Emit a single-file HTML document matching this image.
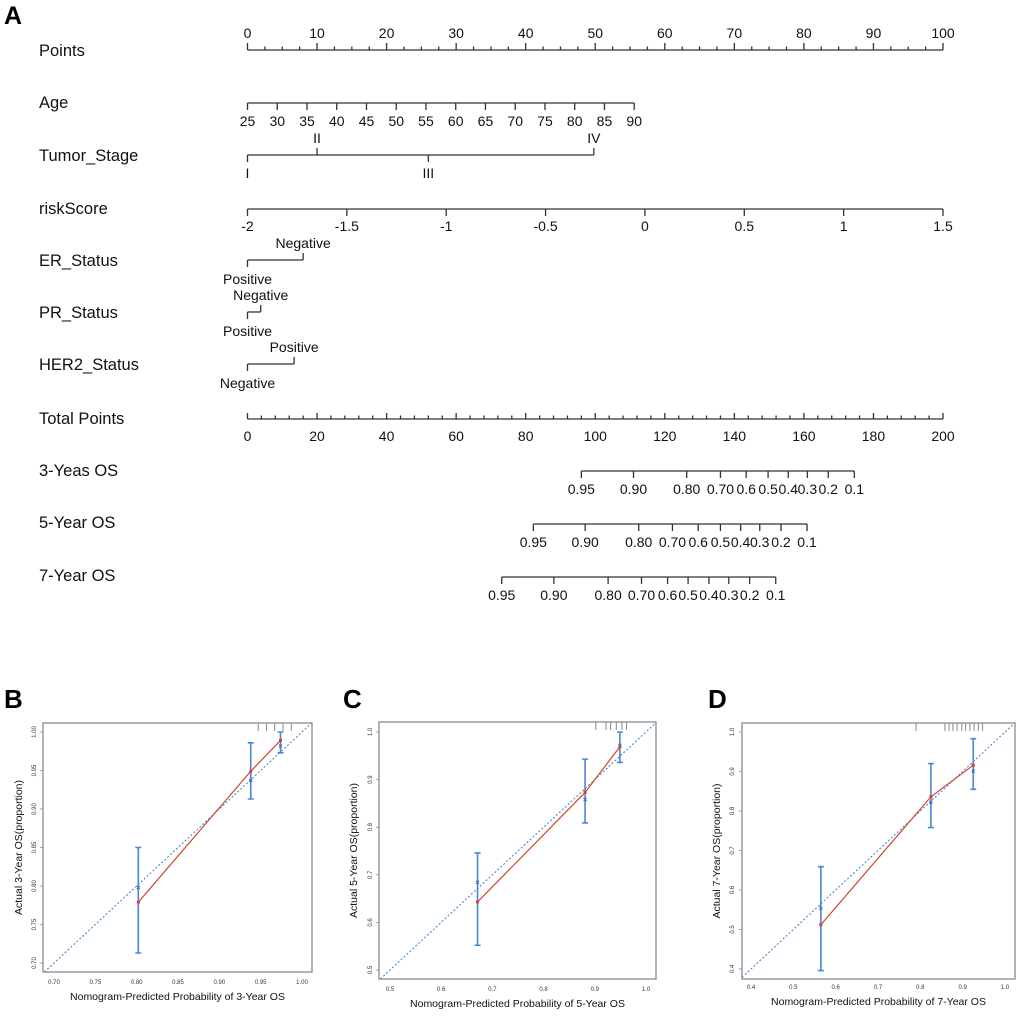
<!DOCTYPE html>
<html><head><meta charset="utf-8"><style>
html,body{margin:0;padding:0;background:#fff;width:1020px;height:1016px;overflow:hidden;}
svg{display:block;font-family:"Liberation Sans",Arial,sans-serif;}
</style></head><body>
<svg id="fig" width="1020" height="1016" viewBox="0 0 1020 1016" xmlns="http://www.w3.org/2000/svg">
<text x="4" y="24" font-size="25" font-weight="bold">A</text>
<g id="nomo"></g>
<text x="4" y="708" font-size="26" font-weight="bold">B</text>
<text x="343" y="708" font-size="26" font-weight="bold">C</text>
<text x="708" y="708" font-size="26" font-weight="bold">D</text>
<g id="cal"></g>
</svg>
<script>
// ---- Nomogram data ----
const rowLabels = ["Points","Age","Tumor_Stage","riskScore","ER_Status","PR_Status","HER2_Status","Total Points","3-Yeas OS","5-Year OS","7-Year OS"];
const rowLabelY = [56,108,161,214,266,318,370,424,476,528,581];
const pointTicks = [0,10,20,30,40,50,60,70,80,90,100];
const ageTicks = [25,30,35,40,45,50,55,60,65,70,75,80,85,90];
const stageLabels = ["I","II","III","IV"];
const stagePoints = [0,10,26,49.8];
const riskTicks = [-2,-1.5,-1,-0.5,0,0.5,1,1.5];
const erLabels = ["Positive","Negative"];
const erPoints = [0,8];
const prLabels = ["Positive","Negative"];
const prPoints = [0,1.9];
const her2Labels = ["Negative","Positive"];
const her2Points = [0,6.7];
const totalTicks = [0,20,40,60,80,100,120,140,160,180,200];
const survLabels = ["0.95","0.90","0.80","0.70","0.6","0.5","0.4","0.3","0.2","0.1"];
const surv3Total = [96,111,126.3,136,143.4,149.7,155.5,161,167,174.5];
const surv5Total = [82.2,97.1,112.5,122.2,129.6,136,141.8,147.3,153.4,160.9];
const surv7Total = [73.1,88.1,103.7,113.3,120.8,126.7,132.7,138.4,144.4,151.9];

// ---- Calibration data ----
const calB_pred = [0.802,0.938,0.974];
const calB_obs = [0.798,0.937,0.982];
const calB_fit = [0.779,0.949,0.989];
const calB_lo = [0.713,0.913,0.973];
const calB_hi = [0.850,0.986,1.000];
const calB_rug = [0.947,0.957,0.967,0.977,0.987];
const calB_ticks = [0.70,0.75,0.80,0.85,0.90,0.95,1.00];
const calC_pred = [0.671,0.881,0.949];
const calC_obs = [0.684,0.858,0.972];
const calC_fit = [0.643,0.873,0.969];
const calC_lo = [0.552,0.809,0.936];
const calC_hi = [0.746,0.943,1.000];
const calC_rug = [0.902,0.922,0.931,0.942,0.953,0.962];
const calC_ticks = [0.5,0.6,0.7,0.8,0.9,1.0];
const calD_pred = [0.565,0.825,0.925];
const calD_obs = [0.554,0.822,0.901];
const calD_fit = [0.512,0.836,0.916];
const calD_lo = [0.396,0.758,0.855];
const calD_hi = [0.659,0.920,0.983];
const calD_rug = [0.790,0.858,0.868,0.877,0.887,0.898,0.907,0.917,0.927,0.937,0.947];
const calD_ticks = [0.4,0.5,0.6,0.7,0.8,0.9,1.0];

const NS="http://www.w3.org/2000/svg";
function mk(parent,tag,attrs,txt){const e=document.createElementNS(NS,tag);for(const k in attrs)e.setAttribute(k,attrs[k]);if(txt!==undefined)e.textContent=txt;parent.appendChild(e);return e;}
const nomo=document.getElementById('nomo');
const P=v=>247.5+v*6.955;
const TP=v=>247.5+v*3.4775;
const AGE=v=>P((v-25)*55.6/65);
const RISK=v=>P((v+2)*100/3.5);
const ink="#333";
function line(x1,y1,x2,y2,name){const l=mk(nomo,'line',{x1,y1,x2,y2,stroke:ink,'stroke-width':1.3});

return l;}
function txt(x,y,s,size,anchor,name){const t=mk(nomo,'text',{x,y,'font-size':size,'text-anchor':anchor,fill:'#111'},s);

return t;}

rowLabels.forEach((s,i)=>{txt(39,rowLabelY[i],s,16.5,'start','row-label');});

let y=50;
line(P(0),y,P(100),y,'points-axis');
for(let v=0;v<=100;v+=2.5){const maj=v%10===0;line(P(v),y,P(v),y-(maj?7:3.5),'points-tick');}
pointTicks.forEach(v=>txt(P(v),38,String(v),14,'middle','points-tick-label'));

y=103;
line(AGE(25),y,AGE(90),y,'age-axis');
ageTicks.forEach(v=>{line(AGE(v),y,AGE(v),y+7,'age-tick');txt(AGE(v),126,String(v),14,'middle','age-tick-label');});

y=155;
line(P(0),y,P(Math.max(...stagePoints)),y,'tumor-stage-axis');
stagePoints.forEach((v,i)=>{const up=(i%2===1);line(P(v),y,P(v),up?y-7:y+7,'tumor-stage-tick');
txt(P(v),up?y-12:y+23,stageLabels[i],14,'middle','tumor-stage-label');});

y=209;
line(RISK(-2),y,RISK(1.5),y,'riskscore-axis');
riskTicks.forEach(v=>{line(RISK(v),y,RISK(v),y+7,'riskscore-tick');txt(RISK(v),231,String(v),14,'middle','riskscore-tick-label');});

function binary(yy,labels,pts,name){
  line(P(pts[0]),yy,P(pts[1]),yy,name+'-axis');
  line(P(pts[0]),yy,P(pts[0]),yy+7,name+'-tick');
  line(P(pts[1]),yy,P(pts[1]),yy-7,name+'-tick');
  txt(P(pts[0]),yy+24,labels[0],14,'middle',name+'-label');
  txt(P(pts[1]),yy-12,labels[1],14,'middle',name+'-label');
}
binary(260,erLabels,erPoints,'er-status');
binary(312,prLabels,prPoints,'pr-status');
binary(364,her2Labels,her2Points,'her2-status');

y=419;
line(TP(0),y,TP(200),y,'total-points-axis');
for(let v=0;v<=200;v+=4){const maj=v%20===0;line(TP(v),y,TP(v),y-(maj?6:3.5),'total-points-tick');}
totalTicks.forEach(v=>txt(TP(v),441,String(v),14,'middle','total-points-tick-label'));

function surv(yy,tot,name){
  line(TP(tot[0]),yy,TP(tot[tot.length-1]),yy,name+'-axis');
  tot.forEach((v,i)=>{line(TP(v),yy,TP(v),yy+7,name+'-tick');txt(TP(v),yy+23,survLabels[i],14,'middle',name+'-tick-label');});
}
surv(471,surv3Total,'os-3-year');
surv(524,surv5Total,'os-5-year');
surv(577,surv7Total,'os-7-year');

const cal=document.getElementById('cal');
function calPlot(cfg){
  const g=mk(cal,'g',{});
  
  
  const X=v=>cfg.x0+(v-cfg.vx0)*(cfg.x1-cfg.x0)/(cfg.vx1-cfg.vx0);
  const Y=v=>cfg.y0+(v-cfg.vy0)*(cfg.y1-cfg.y0)/(cfg.vy1-cfg.vy0);
  const Xi=px=>cfg.vx0+(px-cfg.x0)*(cfg.vx1-cfg.vx0)/(cfg.x1-cfg.x0);
  const Yi=py=>cfg.vy0+(py-cfg.y0)*(cfg.vy1-cfg.vy0)/(cfg.y1-cfg.y0);
  // diagonal clipped to the frame analytically
  const lo=Math.max(Xi(cfg.bx0),Yi(cfg.by1));
  const hi=Math.min(Xi(cfg.bx1),Yi(cfg.by0));
  const d=mk(g,'line',{x1:X(lo),y1:Y(lo),x2:X(hi),y2:Y(hi),stroke:'#4a86d8','stroke-width':1.1,'stroke-dasharray':'2,2'});
  
  
  cfg.rug.forEach(v=>{const r=mk(g,'line',{x1:X(v),y1:cfg.by0,x2:X(v),y2:cfg.by0+8,stroke:'#888','stroke-width':1});
    
    });
  cfg.pred.forEach((p,i)=>{
    const xx=X(p);
    const e=mk(g,'path',{d:`M${xx},${Y(cfg.lo[i])}V${Y(cfg.hi[i])}M${xx-3},${Y(cfg.lo[i])}h6M${xx-3},${Y(cfg.hi[i])}h6`,stroke:'#4a86d8','stroke-width':1.6,fill:'none'});
    
    
    const m=mk(g,'path',{d:`M${xx-1.5},${Y(cfg.obs[i])-1.5}l3,3M${xx+1.5},${Y(cfg.obs[i])-1.5}l-3,3`,stroke:'#3a6fc0','stroke-width':1});
    
    
  });
  const pl=mk(g,'polyline',{points:cfg.pred.map((p,i)=>X(p)+','+Y(cfg.fit[i])).join(' '),stroke:'#d0452c','stroke-width':1.2,fill:'none'});
  
  
  cfg.pred.forEach((p,i)=>{const c=mk(g,'rect',{x:X(p)-1.5,y:Y(cfg.fit[i])-1.5,width:3,height:3,fill:'#d0452c'});
    
    });
  const b=mk(g,'rect',{x:cfg.bx0,y:cfg.by0,width:cfg.bx1-cfg.bx0,height:cfg.by1-cfg.by0,fill:'none',stroke:'#8a8a8a','stroke-width':1.3});
  
  
  cfg.ticks.forEach(v=>{
    if(v>=cfg.vx0-1e-9){const t=mk(g,'text',{x:X(v),y:cfg.xly,'font-size':6,'text-anchor':'middle',fill:'#333'},cfg.fmt(v));
      
      }
    if(v>=cfg.vy0-1e-9){const yy=Y(v);const t=mk(g,'text',{x:cfg.ylx,y:yy,'font-size':6,'text-anchor':'middle',fill:'#333',transform:`rotate(-90 ${cfg.ylx} ${yy})`},cfg.fmt(v));
      
      
      const tk=mk(g,'line',{x1:cfg.bx0,y1:yy,x2:cfg.bx0-3,y2:yy,stroke:'#888','stroke-width':0.8});
      
      }
  });
  const xt=mk(g,'text',{x:(cfg.bx0+cfg.bx1)/2,y:cfg.xty,'font-size':10.5,'text-anchor':'middle',fill:'#111'},cfg.xtitle);
  
  
  const cy=(cfg.by0+cfg.by1)/2;
  const yt=mk(g,'text',{x:cfg.ytx,y:cy,'font-size':10.5,'text-anchor':'middle',fill:'#111',transform:`rotate(-90 ${cfg.ytx} ${cy})`},cfg.ytitle);
  
  
}
calPlot({name:'calibration-3-year',bx0:43,bx1:312,by0:723,by1:972,x0:54,x1:302,vx0:0.70,vx1:1.00,y0:963,y1:732,vy0:0.70,vy1:1.00,
  pred:calB_pred,obs:calB_obs,fit:calB_fit,lo:calB_lo,hi:calB_hi,rug:calB_rug,ticks:calB_ticks,fmt:v=>v.toFixed(2),
  xly:984,ylx:36,xty:1000,ytx:22,xtitle:'Nomogram-Predicted Probability of 3-Year OS',ytitle:'Actual 3-Year OS(proportion)'});
calPlot({name:'calibration-5-year',bx0:379,bx1:656,by0:722,by1:979,x0:390,x1:646,vx0:0.5,vx1:1.0,y0:970,y1:732,vy0:0.5,vy1:1.0,
  pred:calC_pred,obs:calC_obs,fit:calC_fit,lo:calC_lo,hi:calC_hi,rug:calC_rug,ticks:calC_ticks,fmt:v=>v.toFixed(1),
  xly:991,ylx:372,xty:1007,ytx:357,xtitle:'Nomogram-Predicted Probability of 5-Year OS',ytitle:'Actual 5-Year OS(proportion)'});
calPlot({name:'calibration-7-year',bx0:742,bx1:1015,by0:723,by1:979,x0:751,x1:1005,vx0:0.4,vx1:1.0,y0:969,y1:732,vy0:0.4,vy1:1.0,
  pred:calD_pred,obs:calD_obs,fit:calD_fit,lo:calD_lo,hi:calD_hi,rug:calD_rug,ticks:calD_ticks,fmt:v=>v.toFixed(1),
  xly:989,ylx:734,xty:1005,ytx:720,xtitle:'Nomogram-Predicted Probability of 7-Year OS',ytitle:'Actual 7-Year OS(proportion)'});
</script>
</body></html>
